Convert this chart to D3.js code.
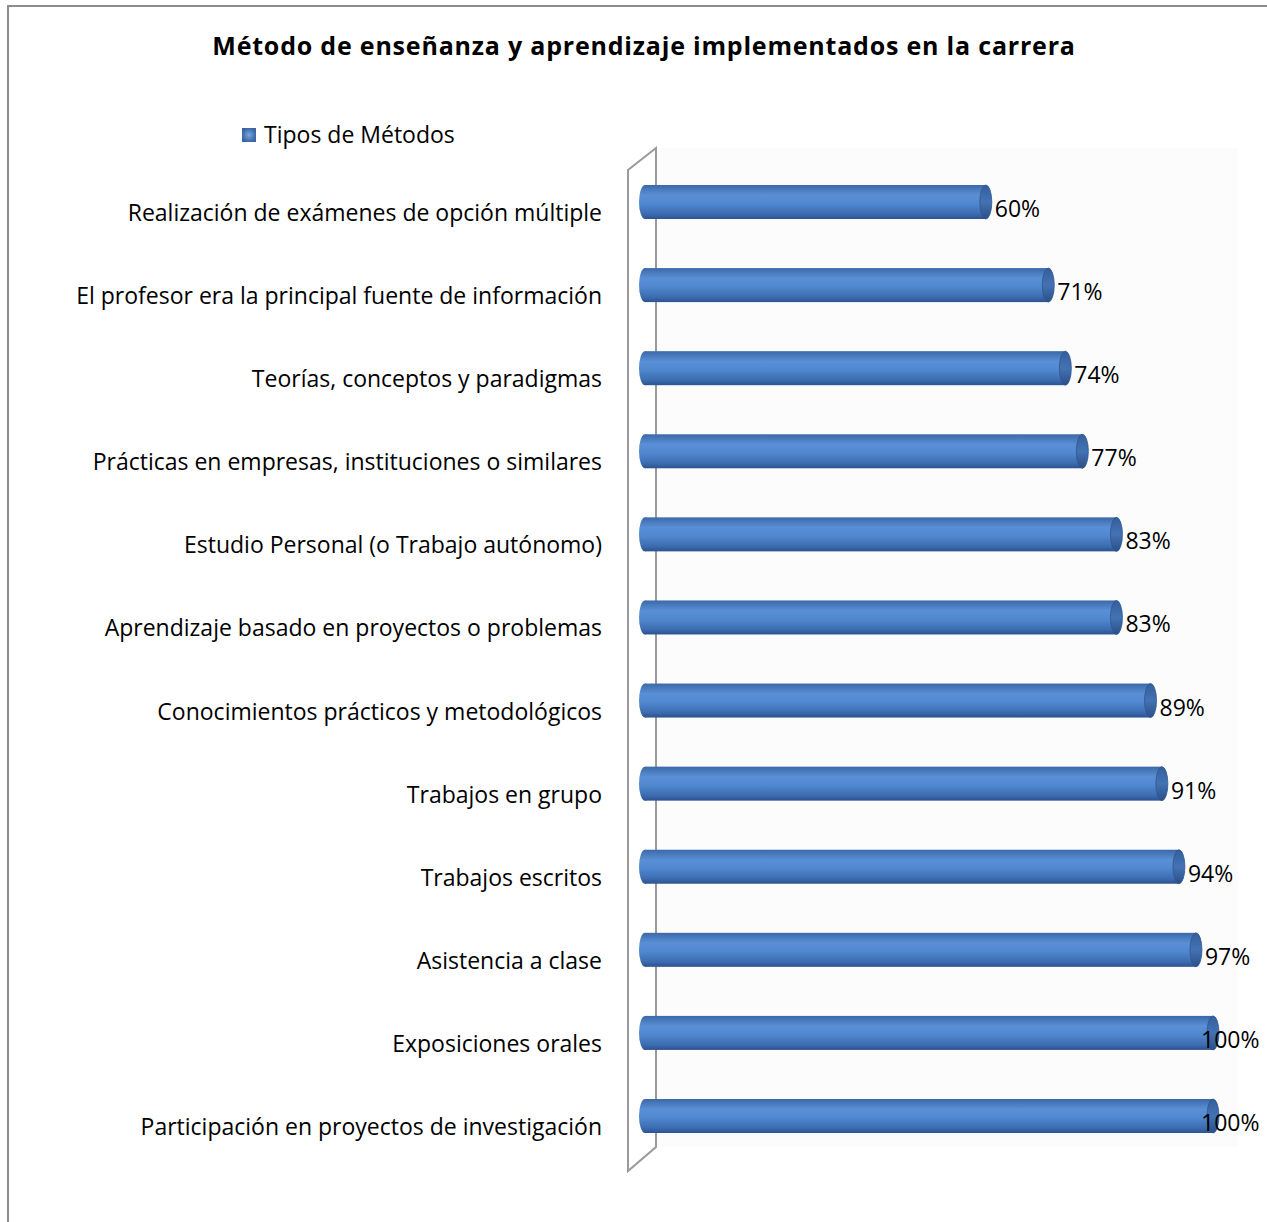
<!DOCTYPE html>
<html>
<head>
<meta charset="utf-8">
<script src="https://cdn.jsdelivr.net/npm/d3@7"></script>
<style>
  body { margin: 0; background: #fff; }
  text { font-family: "Open Sans", Lato, sans-serif; fill: #000; }
</style>
</head>
<body>
<svg id="vis"></svg>
<script>
const svg = d3.select("#vis").attr("width", 1267).attr("height", 1222);

const categories = [
    "Realización de exámenes de opción múltiple",
    "El profesor era la principal fuente de información",
    "Teorías, conceptos y paradigmas",
    "Prácticas en empresas, instituciones o similares",
    "Estudio Personal (o Trabajo autónomo)",
    "Aprendizaje basado en proyectos o problemas",
    "Conocimientos prácticos y metodológicos",
    "Trabajos en grupo",
    "Trabajos escritos",
    "Asistencia a clase",
    "Exposiciones orales",
    "Participación en proyectos de investigación"
];
const values = [0.60, 0.71, 0.74, 0.77, 0.83, 0.83, 0.89, 0.91, 0.94, 0.97, 1.00, 1.00];
const valueLabels = ["60%", "71%", "74%", "77%", "83%", "83%", "89%", "91%", "94%", "97%", "100%", "100%"];
const seriesName = "Tipos de Métodos";
const title = "Método de enseñanza y aprendizaje implementados en la carrera";

const xscale = d3.scaleLinear().domain([0, 1]).range([645, 1213]);
const yscale = d3.scalePoint().domain(categories).range([202, 1116]);

const BAR_H = 34;
const CAP_RX = 6;

function main() {
    drawFrame();
    drawWall();
    drawBars();
    drawLabels();
}

function drawFrame() {
    svg.append("rect")
        .attr("x", 8).attr("y", 6)
        .attr("width", 1300).attr("height", 1300)
        .attr("fill", "none")
        .attr("stroke", "#8c8c8c")
        .attr("stroke-width", 2);

    svg.append("text")
        .attr("x", 644).attr("y", 55)
        .attr("text-anchor", "middle")
        .style("font-size", "25px")
        .style("font-weight", "bold")
        .style("letter-spacing", "0.8px")
        .text(title);

    const defs = svg.append("defs");
    const grad = defs.append("linearGradient")
        .attr("id", "barGrad")
        .attr("x1", 0).attr("y1", 0).attr("x2", 0).attr("y2", 1);
    grad.append("stop").attr("offset", "0%").attr("stop-color", "#3b69a8");
    grad.append("stop").attr("offset", "30%").attr("stop-color", "#5a8fd6");
    grad.append("stop").attr("offset", "55%").attr("stop-color", "#5088cf");
    grad.append("stop").attr("offset", "85%").attr("stop-color", "#3c6cb0");
    grad.append("stop").attr("offset", "100%").attr("stop-color", "#2c5290");

    const capGrad = defs.append("linearGradient")
        .attr("id", "capGrad")
        .attr("x1", 0).attr("y1", 0).attr("x2", 0).attr("y2", 1);
    capGrad.append("stop").attr("offset", "0%").attr("stop-color", "#355f9c");
    capGrad.append("stop").attr("offset", "50%").attr("stop-color", "#4372b3");
    capGrad.append("stop").attr("offset", "100%").attr("stop-color", "#2b4f88");

    const legGrad = defs.append("radialGradient").attr("id", "legGrad");
    legGrad.append("stop").attr("offset", "0%").attr("stop-color", "#7aa6e0");
    legGrad.append("stop").attr("offset", "100%").attr("stop-color", "#3a66a5");

    // legend
    svg.append("rect")
        .attr("x", 242).attr("y", 128)
        .attr("width", 14).attr("height", 14)
        .attr("fill", "url(#legGrad)");
    svg.append("text")
        .attr("x", 264).attr("y", 143)
        .style("font-size", "23px")
        .text(seriesName);
}

function drawWall() {
    const top = yscale(categories[0]) - 54;
    const bottom = yscale(categories[categories.length - 1]) + 55;
    const pts = [[628, top + 22], [656, top], [656, bottom - 24], [628, bottom]];

    svg.append("rect")
        .attr("x", 656).attr("y", top)
        .attr("width", 582).attr("height", bottom - top - 24)
        .attr("fill", "#fcfcfc");

    svg.append("path")
        .attr("d", d3.line()(pts) + "Z")
        .attr("fill", "#fff")
        .attr("stroke", "#9a9a9a")
        .attr("stroke-width", 2);
}

function drawBars() {
    const g = svg.selectAll(".bar").data(categories.map((c, i) => ({c, v: values[i], i})))
        .join("g").attr("class", "bar");

    // body
    g.append("rect")
        .attr("x", xscale(0))
        .attr("y", d => yscale(d.c) - BAR_H / 2)
        .attr("width", d => xscale(d.v) - xscale(0))
        .attr("height", BAR_H)
        .attr("fill", "url(#barGrad)");
    // rounded left end
    g.append("ellipse")
        .attr("cx", xscale(0))
        .attr("cy", d => yscale(d.c))
        .attr("rx", CAP_RX)
        .attr("ry", BAR_H / 2)
        .attr("fill", "url(#barGrad)");
    // right cap
    g.append("ellipse")
        .attr("cx", d => xscale(d.v))
        .attr("cy", d => yscale(d.c))
        .attr("rx", CAP_RX)
        .attr("ry", BAR_H / 2)
        .attr("fill", "url(#capGrad)")
        .attr("stroke", "#2f5790")
        .attr("stroke-width", 0.8);

    g.append("text")
        .attr("x", d => d.v >= 1 ? xscale(d.v) - 12 : xscale(d.v) + CAP_RX + 3)
        .attr("y", d => yscale(d.c) + 15)
        .style("font-size", "23px")
        .text(d => valueLabels[d.i]);
}

function drawLabels() {
    svg.selectAll(".cat").data(categories).join("text")
        .attr("class", "cat")
        .attr("x", 602)
        .attr("y", d => yscale(d) + 19)
        .attr("text-anchor", "end")
        .style("font-size", "23px")
        .text(d => d);
}

main();
</script>
</body>
</html>
